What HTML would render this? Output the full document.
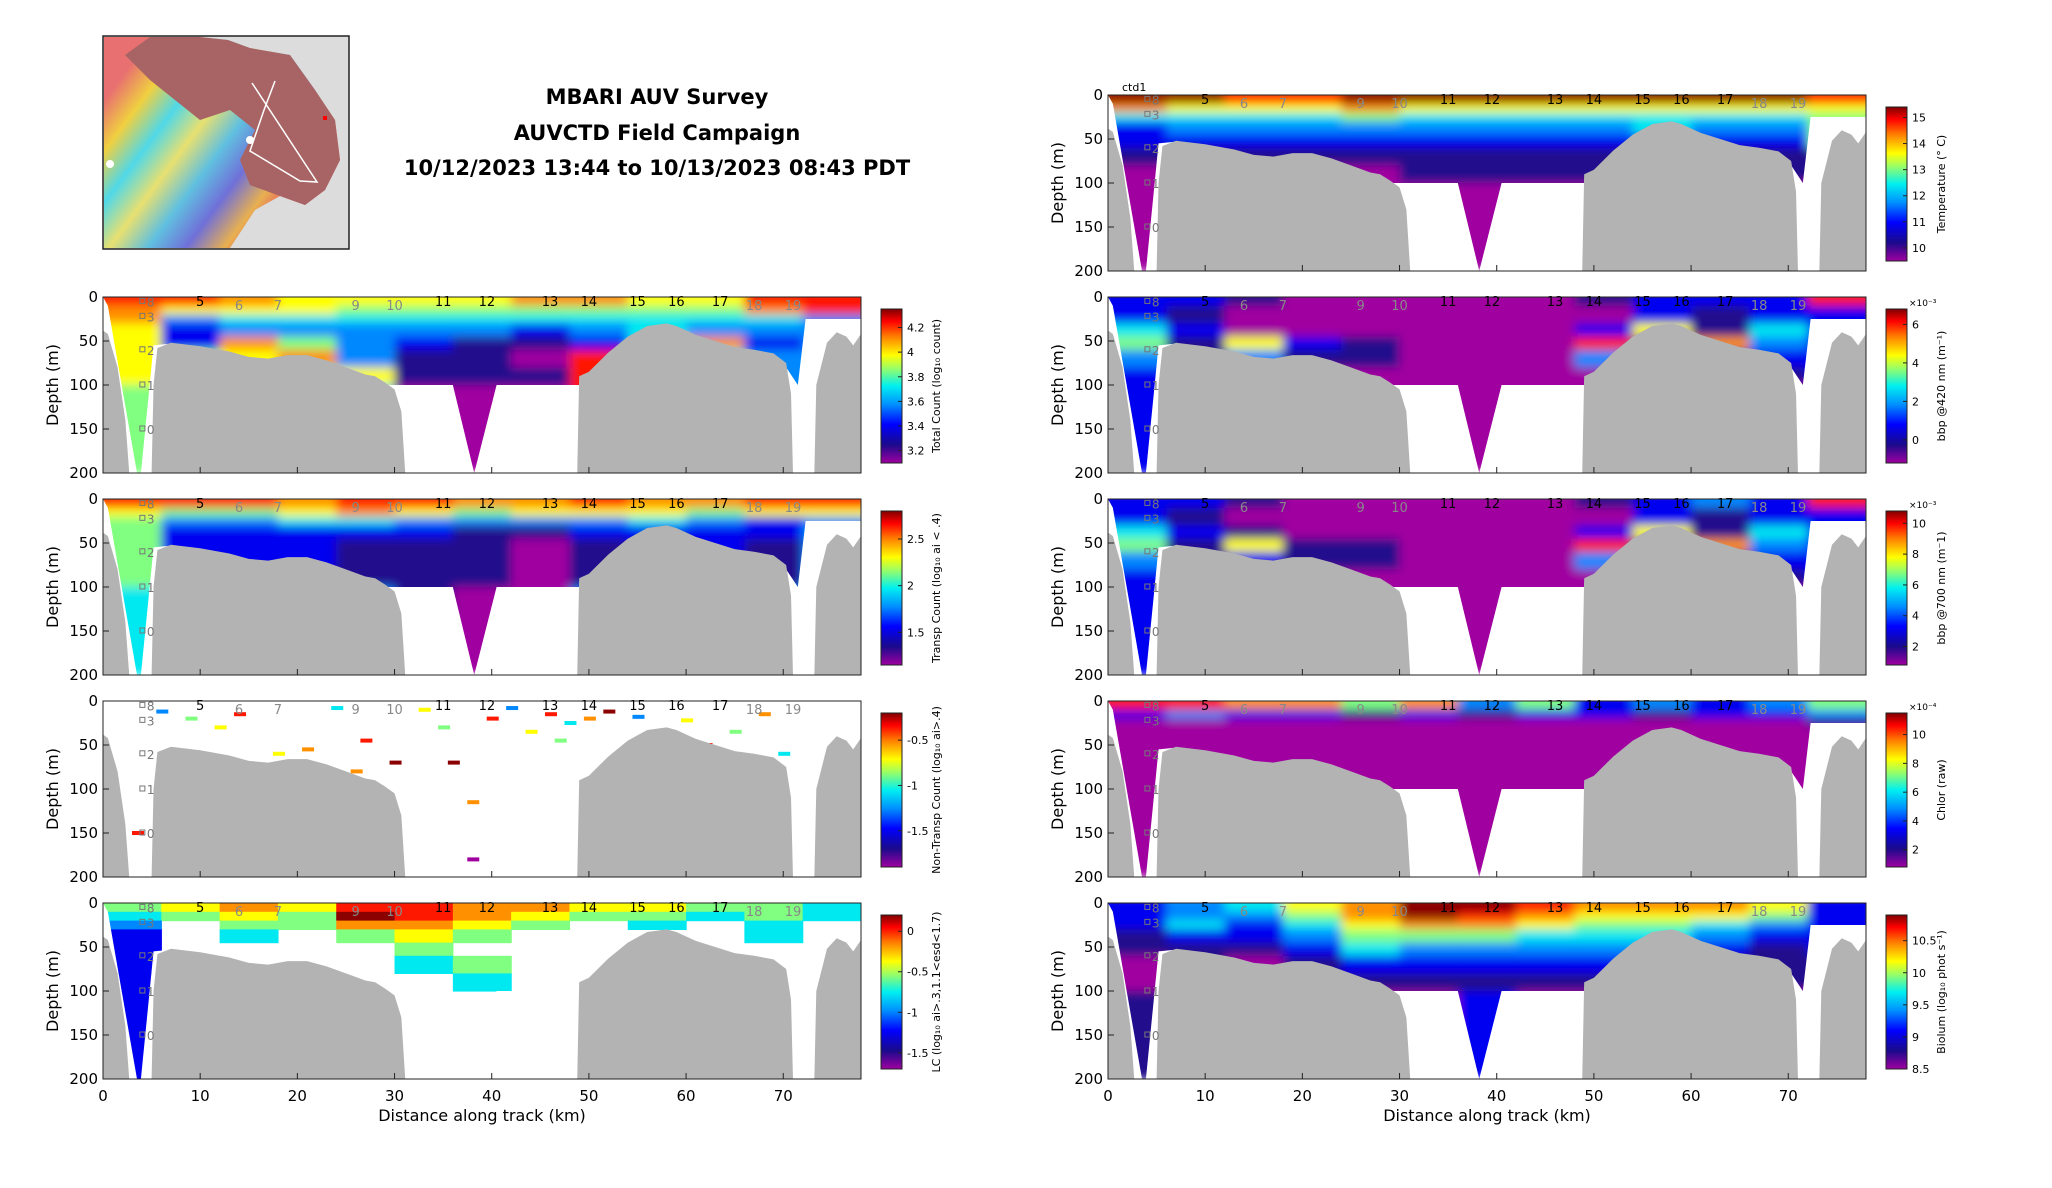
<!DOCTYPE html>
<html><head><meta charset="utf-8"><style>
html,body{margin:0;padding:0;background:#fff}
svg{display:block;font-family:"DejaVu Sans","Liberation Sans",sans-serif}
</style></head><body>
<svg id="fig" width="2052" height="1188" viewBox="0 0 2052 1188">
<defs>
<linearGradient id="jet" x1="0" y1="1" x2="0" y2="0">
<stop offset="0" stop-color="#a000a0"/><stop offset="0.12" stop-color="#1a0a8c"/><stop offset="0.25" stop-color="#0000ff"/><stop offset="0.38" stop-color="#0090ff"/><stop offset="0.5" stop-color="#00f0f0"/><stop offset="0.62" stop-color="#a0ff60"/><stop offset="0.7" stop-color="#ffff00"/><stop offset="0.82" stop-color="#ff8000"/><stop offset="0.92" stop-color="#ff0000"/><stop offset="1" stop-color="#800000"/>
</linearGradient>
<linearGradient id="maprb" x1="0" y1="0.3" x2="0.75" y2="0.8">
<stop offset="0" stop-color="#e87070"/><stop offset="0.15" stop-color="#f0d040"/><stop offset="0.3" stop-color="#50d8e8"/><stop offset="0.45" stop-color="#e8e070"/><stop offset="0.6" stop-color="#60c0e0"/><stop offset="0.75" stop-color="#7070d8"/><stop offset="0.9" stop-color="#e8b050"/><stop offset="1" stop-color="#e86060"/>
</linearGradient>
<filter id="soft" x="-5%" y="-5%" width="110%" height="110%"><feGaussianBlur stdDeviation="5"/></filter>
</defs>
<g id="map">
<rect x="103" y="36" width="246" height="213" fill="#dcdcdc" stroke="#222" stroke-width="1.5"/>
<polygon points="104,37 200,37 228,40 250,48 290,55 315,90 335,120 340,160 325,190 305,205 280,196 255,210 230,248 104,248" fill="url(#maprb)"/>
<polygon points="150,37 200,37 228,40 250,48 290,55 315,90 335,120 340,160 325,190 305,205 280,196 250,185 240,160 255,130 230,110 200,120 175,100 150,80 125,55" fill="#a86464"/>
<polyline points="252,83 317,182 300,181 250,151 264,110 275,81" fill="none" stroke="#fff" stroke-width="1.5"/>
<circle cx="250" cy="140" r="4" fill="#fff"/><circle cx="110" cy="164" r="4" fill="#fff"/>
<rect x="323" y="116" width="4" height="4" fill="#f00"/>
</g>
<g font-weight="bold" font-size="21" text-anchor="middle" fill="#000">
<text x="657" y="104">MBARI AUV Survey</text>
<text x="657" y="140">AUVCTD Field Campaign</text>
<text x="657" y="175">10/12/2023 13:44 to 10/13/2023 08:43 PDT</text>
</g>
<text x="1122" y="91" font-size="11">ctd1</text>
<g id="panels"></g>
</svg>
<script>
const KM_EDGES=[0,6,12,18,24,30,36,42,48,54,60,66,72,78];
const DEPTH_EDGES=[0,10,20,30,45,60,80,100,200];
const X_TICKS=[0,10,20,30,40,50,60,70];
const Y_TICKS=[0,50,100,150,200];
const STATION_KM=[10,35,39.5,46,50,55,59,63.5];
const STATION_LABELS=["5","11","12","13","14","15","16","17"];
const GREY_STATION_KM=[14,18,26,30,67,71];
const GREY_STATION_LABELS=["6","7","9","10","18","19"];
const CAST_DEPTH=[5,22,60,100,150];
const CAST_LABELS=["8","3","2","1","0"];
const SAMPLED=[[0,0],[78,0],[78,25],[72.3,25],[71.5,100],[70.3,80],[69,68],[67,64],[65,60],[63,53],[61,48],[59,36],[58,33],[56,35],[54,48],[52,68],[50,88],[49,95],[49,100],[40.5,100],[38.2,200],[36,100],[29,100],[28,95],[27,90],[25,83],[23,75],[21,70],[19,70],[17,73],[15,72],[13,65],[10,58],[7,53],[5.2,55],[4.8,100],[3.9,200],[3.5,200],[0.5,10]];
const GRAY1=[[0,200],[0,38],[0.5,42],[1.5,80],[2.3,140],[2.7,200]];
const GRAY2=[[5,200],[5.2,100],[5.6,58],[7,52],[10,56],[13,62],[15,68],[17,70],[19,66],[21,66],[23,72],[25,80],[27,88],[28,90],[29,97],[30,105],[30.7,130],[31.1,200]];
const GRAY3=[[48.8,200],[49,90],[50,85],[52,63],[54,45],[56,33],[58,30],[59,33],[61,43],[63,50],[65,57],[67,60],[69,64],[70.3,75],[70.8,110],[71,200]];
const GRAY4=[[73.2,200],[73.4,100],[74.5,52],[75.5,40],[76.5,45],[77.2,55],[78,42],[78,200]];
const TEMP=[[9,9,8,8,9,9,9,9,9,9,9,9,8],[7,6,6,6,7,6,6,6,6,6,6,6,6],[4,4,4,4,5,4,4,4,4,4,4,4,5],[2,3,3,3,3,3,3,3,3,4,3,3,5],[2,2,2,2,2,2,2,2,2,2,2,2,5],[1,1,1,1,1,1,1,1,1,1,1,1,1],[0,0,0,0,0,1,1,1,1,1,1,1,1],[0,0,0,0,0,0,0,0,0,0,0,0,0]];
const TOTAL=[[8,8,7,6,6,6,6,7,7,6,6,8,8],[7,6,6,6,5,5,5,5,5,5,5,7,8],[7,3,4,4,4,4,4,4,4,4,4,4,3],[6,2,3,3,3,3,3,2,3,4,3,3,3],[6,2,7,5,3,2,1,1,2,4,7,2,3],[6,5,6,7,3,1,1,0,8,4,4,3,3],[6,5,5,5,6,1,1,1,8,4,4,3,3],[5,4,4,4,4,0,0,0,8,4,4,3,3]];
const TRANSP=[[8,8,8,7,8,8,7,7,8,7,7,8,8],[6,5,5,6,7,6,5,6,6,6,5,6,6],[5,3,3,4,4,3,3,3,3,4,3,2,3],[5,2,2,2,2,2,1,1,2,2,2,2,3],[5,2,2,2,1,1,1,0,1,2,2,1,3],[5,2,2,2,1,1,1,0,1,2,2,1,3],[5,2,2,1,1,1,1,0,1,1,1,1,3],[4,3,3,3,3,1,0,0,3,3,3,3,3]];
const LC=[[5,6,7,6,8,8,7,7,6,6,5,5,4],[4,5,6,5,9,8,7,6,5,5,4,5,4],[3,-1,5,5,7,7,6,5,-1,4,-1,4,-1],[2,-1,4,-1,5,6,5,-1,-1,-1,-1,4,-1],[2,-1,-1,-1,-1,5,-1,-1,-1,-1,-1,-1,-1],[2,-1,-1,-1,-1,4,5,-1,-1,-1,-1,-1,-1],[2,-1,-1,-1,-1,-1,4,-1,-1,-1,-1,-1,-1],[2,-1,-1,-1,-1,-1,-1,-1,-1,-1,-1,-1,-1]];
const BBP420=[[2,2,1,0,0,0,0,0,1,2,2,2,8],[2,1,0,0,0,0,0,0,0,2,1,2,2],[2,1,0,0,0,0,0,0,0,2,1,2,2],[4,2,0,0,0,0,0,0,2,6,1,4,2],[5,1,6,2,1,0,0,0,8,1,7,3,2],[3,1,3,1,1,0,0,0,3,1,1,2,2],[2,0,0,0,0,0,0,0,0,0,0,1,2],[2,0,0,0,0,0,0,0,0,0,0,0,0]];
const BBP700=[[2,2,1,0,0,0,0,0,1,2,3,2,8],[2,1,0,0,0,0,0,0,0,2,1,2,2],[2,1,0,0,0,0,0,0,0,2,1,2,2],[4,2,1,0,0,0,0,0,2,6,1,4,2],[5,1,6,1,1,0,0,0,8,1,7,3,2],[3,1,2,1,1,0,0,0,3,1,1,2,2],[2,0,0,0,0,0,0,0,0,0,0,1,2],[2,0,0,0,0,0,0,0,0,0,0,0,0]];
const CHLOR=[[8,8,7,7,5,7,3,5,2,3,2,3,5],[2,3,2,2,1,2,1,2,2,1,2,2,3],[0,0,0,0,0,0,0,0,0,0,0,0,1],[0,0,0,0,0,0,0,0,0,0,0,0,0],[0,0,0,0,0,0,0,0,0,0,0,0,0],[0,0,0,0,0,0,0,0,0,0,0,0,0],[0,0,0,0,0,0,0,0,0,0,0,0,0],[0,0,0,0,0,0,0,0,0,0,0,0,0]];
const BIOLUM=[[2,3,4,6,7,9,9,8,7,7,7,6,2],[2,3,3,5,7,9,8,7,6,6,6,5,2],[2,4,2,4,6,7,7,6,5,5,4,3,2],[1,2,2,3,5,5,5,4,4,4,3,2,2],[1,1,1,2,4,3,3,3,3,3,2,1,2],[0,1,0,1,2,2,2,2,2,2,1,1,1],[0,0,0,1,1,1,1,1,1,1,1,1,1],[1,0,0,0,0,0,2,0,0,0,0,0,0]];
const SPECK_KM=[6,9,14,18,21,24,27,30,33,35,38,40,42,44,46,48,50,52,55,60,62,65,68,70,3.5,12,26,36,47,58,64,38];
const SPECK_DEPTH=[12,20,15,60,55,8,45,70,10,30,115,20,8,35,15,25,20,12,18,22,50,35,15,60,150,30,80,70,45,40,70,180];
const SPECK_LEVEL=[3,5,8,6,7,4,8,9,6,5,7,8,3,6,8,4,7,9,3,6,8,5,7,4,8,6,7,9,5,8,3,0];
const CB_TICKS={temp:[10,11,12,13,14,15],total:[3.2,3.4,3.6,3.8,4,4.2],transp:[1.5,2,2.5],nontransp:[-1.5,-1,-0.5],lc:[-1.5,-1,-0.5,0],b420:[0,2,4,6],b700:[2,4,6,8,10],chlor:[2,4,6,8,10],bio:[8.5,9,9.5,10,10.5]};
const CB_RANGE={temp:[9.5,15.4],total:[3.1,4.35],transp:[1.15,2.8],nontransp:[-1.9,-0.2],lc:[-1.7,0.2],b420:[-1.2,6.8],b700:[0.8,10.8],chlor:[0.8,11.5],bio:[8.5,10.9]};
const CB_LABELS={temp:"Temperature (° C)",total:"Total Count (log₁₀ count)",transp:"Transp Count (log₁₀ ai < .4)",nontransp:"Non-Transp Count (log₁₀ ai>.4)",lc:"LC (log₁₀ ai>.3,1.1<esd<1.7)",b420:"bbp @420 nm (m⁻¹)",b700:"bbp @700 nm (m⁻1)",chlor:"Chlor (raw)",bio:"Biolum (log₁₀ phot s⁻¹)"};
const CB_EXP={b420:"×10⁻³",b700:"×10⁻³",chlor:"×10⁻⁴"};
const JET=["#a000a0","#22108c","#0000f0","#0088ff","#00e8f0","#80ff80","#ffff00","#ff9000","#ff1800","#8b0000"];

const NS="http://www.w3.org/2000/svg";
const root=document.getElementById('panels');
function mk(tag,attrs,parent){const e=document.createElementNS(NS,tag);for(const k in attrs)e.setAttribute(k,attrs[k]);(parent||root).appendChild(e);return e;}
const W=758,H=176;
const PANELS=[
 {x:1108,y:95,grid:TEMP,cb:'temp',name:'temperature'},
 {x:103,y:297,grid:TOTAL,cb:'total',name:'total-count'},
 {x:1108,y:297,grid:BBP420,cb:'b420',name:'bbp420'},
 {x:103,y:499,grid:TRANSP,cb:'transp',name:'transp-count'},
 {x:1108,y:499,grid:BBP700,cb:'b700',name:'bbp700'},
 {x:103,y:701,grid:null,cb:'nontransp',name:'nontransp-count'},
 {x:1108,y:701,grid:CHLOR,cb:'chlor',name:'chlor'},
 {x:103,y:903,grid:LC,cb:'lc',name:'lc'},
 {x:1108,y:903,grid:BIOLUM,cb:'bio',name:'biolum'}
];
PANELS.forEach((p,pi)=>{
 const sx=km=>p.x+km/78*W, sy=d=>p.y+d/200*H;
 const g=mk('g',{});
 
 
 const cid='clip'+pi;
 const cp=mk('clipPath',{id:cid},g);
 mk('polygon',{points:SAMPLED.map(q=>sx(q[0])+','+sy(q[1])).join(' ')},cp);
 const outer=mk('g',{'clip-path':'url(#'+cid+')'},g);
 const field=mk('g',{filter:(p.cb==='lc')?'none':'url(#soft)'},outer);
 
 
 if(p.grid){
  p.grid.forEach((row,r)=>row.forEach((v,c)=>{
   if(v<0)return;
   const x0=sx(KM_EDGES[c]),x1=sx(KM_EDGES[c+1]),y0=sy(DEPTH_EDGES[r]),y1=sy(DEPTH_EDGES[r+1]);
   const ext=(r===0)?8:0, extR=(c===KM_EDGES.length-2)?8:0, extL=(c===0)?8:0;
   const rc=mk('rect',{x:x0-extL,y:y0-ext,width:x1-x0+0.6+extR+extL,height:y1-y0+0.6+ext,fill:JET[v]},field);
   
   
  }));
 }
 if(p.cb==='nontransp'){
  SPECK_KM.forEach((k,i)=>{
   const rc=mk('rect',{x:sx(k)-5,y:sy(SPECK_DEPTH[i])-2,width:12,height:4,fill:JET[SPECK_LEVEL[i]]},g);
   
   
  });
 }
 [GRAY1,GRAY2,GRAY3,GRAY4].forEach(poly=>{
  const t=mk('polygon',{points:poly.map(q=>sx(q[0])+','+sy(q[1])).join(' '),fill:'#b3b3b3'},g);
  
  
 });
 mk('rect',{x:p.x,y:p.y,width:W,height:H,fill:'none',stroke:'#222','stroke-width':1},g);
 const bottom=(pi>=7);
 X_TICKS.forEach(t=>{
  mk('line',{x1:sx(t),y1:p.y+H,x2:sx(t),y2:p.y+H-6,stroke:'#222'},g);
  if(bottom){const tx=mk('text',{x:sx(t),y:p.y+H+22,'font-size':15,'text-anchor':'middle'},g);tx.textContent=t;}
 });
 Y_TICKS.forEach(t=>{
  mk('line',{x1:p.x,y1:sy(t),x2:p.x+6,y2:sy(t),stroke:'#222'},g);
  const tx=mk('text',{x:p.x-5,y:sy(t)+5,'font-size':15,'text-anchor':'end'},g);tx.textContent=t;
 });
 STATION_KM.forEach((k,i)=>{const tx=mk('text',{x:sx(k),y:p.y+9,'font-size':13,'text-anchor':'middle'},g);tx.textContent=STATION_LABELS[i];});
 GREY_STATION_KM.forEach((k,i)=>{const tx=mk('text',{x:sx(k),y:p.y+13,'font-size':13,'text-anchor':'middle',fill:'#888'},g);tx.textContent=GREY_STATION_LABELS[i];});
 CAST_DEPTH.forEach((d,i)=>{
  mk('rect',{x:sx(4)-2,y:sy(d)-3,width:5,height:5,fill:'none',stroke:'#777'},g);
  const tx=mk('text',{x:sx(4)+5,y:sy(d)+5,'font-size':12,fill:'#777'},g);tx.textContent=CAST_LABELS[i];
 });
 const yl=mk('text',{x:p.x-45,y:p.y+H/2,'font-size':16,'text-anchor':'middle',transform:`rotate(-90 ${p.x-45} ${p.y+H/2})`},g);
 yl.textContent='Depth (m)';
 
 
 if(bottom){const xl=mk('text',{x:p.x+W/2,y:p.y+H+42,'font-size':16,'text-anchor':'middle'},g);xl.textContent='Distance along track (km)';
  
  }
 const cbx=p.x+W+20,cby=p.y+12,cbh=154,cbw=21;
 const cb=mk('g',{},g);
 
 
 mk('rect',{x:cbx,y:cby,width:cbw,height:cbh,fill:'url(#jet)',stroke:'#222','stroke-width':1},cb);
 const rng=CB_RANGE[p.cb];
 CB_TICKS[p.cb].forEach(t=>{
  const y=cby+cbh-(t-rng[0])/(rng[1]-rng[0])*cbh;
  mk('line',{x1:cbx+cbw-4,y1:y,x2:cbx+cbw,y2:y,stroke:'#222'},cb);
  const tx=mk('text',{x:cbx+cbw+5,y:y+4,'font-size':11},cb);tx.textContent=t;
 });
 if(CB_EXP[p.cb]){const tx=mk('text',{x:cbx+cbw+2,y:cby-3,'font-size':9},cb);tx.textContent=CB_EXP[p.cb];}
 const lx=cbx+cbw+38,ly=cby+cbh/2;
 const lt=mk('text',{x:lx,y:ly,'font-size':11,'text-anchor':'middle',transform:`rotate(-90 ${lx} ${ly})`},cb);
 lt.textContent=CB_LABELS[p.cb];
});
</script>
</body></html>
